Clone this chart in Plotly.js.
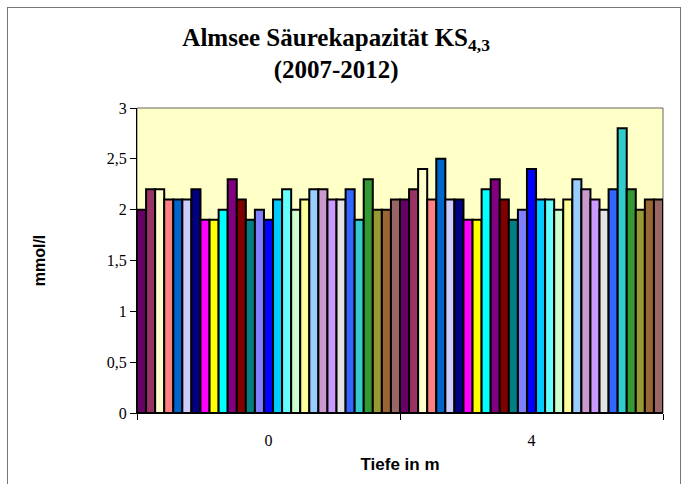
<!DOCTYPE html>
<html>
<head>
<meta charset="utf-8">
<script src="https://cdn.plot.ly/plotly-3.0.1.min.js"></script>
<style>
  html, body { margin: 0; padding: 0; background: #fff; }
  #wrap { position: relative; width: 686px; height: 484px; }
  #chart { width: 686px; height: 484px; }
  #frame { position: absolute; left: 7px; top: 7px; width: 672px; height: 480px; border: 1px solid #777; pointer-events: none; }
</style>
</head>
<body>
<div id="wrap">
  <div id="chart"></div>
  <div id="frame"></div>
</div>
<script>
// Categories (depth in m)
const depths = ["0", "4"];

// One value per series at depth 0 m and at depth 4 m (mmol/l)
const valuesDepth0 = [2.0, 2.2, 2.2, 2.1, 2.1, 2.1, 2.2, 1.9, 1.9, 2.0, 2.3, 2.1, 1.9, 2.0, 1.9,
                      2.1, 2.2, 2.0, 2.1, 2.2, 2.2, 2.1, 2.1, 2.2, 1.9, 2.3, 2.0, 2.0, 2.1];
const valuesDepth4 = [2.1, 2.2, 2.4, 2.1, 2.5, 2.1, 2.1, 1.9, 1.9, 2.2, 2.3, 2.1, 1.9, 2.0, 2.4,
                      2.1, 2.1, 2.0, 2.1, 2.3, 2.2, 2.1, 2.0, 2.2, 2.8, 2.2, 2.0, 2.1, 2.1];

// Series fill colours
const seriesColors = ["#660066", "#993366", "#FFFFCC", "#FF8080", "#0066CC", "#CCCCFF", "#000080",
                      "#FF00FF", "#FFFF00", "#00FFFF", "#800080", "#800000", "#008080", "#8080FF",
                      "#0000FF", "#00CCFF", "#66FFFF", "#CCFFCC", "#FFFF99", "#99CCFF", "#CC99CC",
                      "#CC99FF", "#E3E3E3", "#3366FF", "#33CCCC", "#339933", "#999933", "#996633",
                      "#996666"];

const seriesNames = seriesColors.map((c, i) => "Serie " + (i + 1));

const traces = seriesNames.map((name, i) => ({
  type: "bar",
  name: name,
  x: depths,
  y: [valuesDepth0[i], valuesDepth4[i]],
  marker: { color: seriesColors[i], line: { color: "#000", width: 2 } },
  hoverinfo: "x+y+name"
}));

const layout = {
  width: 686,
  height: 484,
  margin: { l: 137, r: 23, t: 108, b: 71 },
  paper_bgcolor: "rgba(0,0,0,0)",
  plot_bgcolor: "#FFFFC8",
  separators: ",.",
  showlegend: false,
  barmode: "group",
  bargap: 0,
  bargroupgap: 0,
  title: {
    text: "<b>Almsee Säurekapazität KS<sub>4,3</sub><br>(2007-2012)</b>",
    font: { family: "Liberation Serif, Times New Roman, serif", size: 25, color: "#000" },
    x: 0.49, xanchor: "center",
    y: 0.905, yanchor: "top"
  },
  xaxis: {
    type: "category",
    tickson: "boundaries",
    ticks: "outside",
    ticklen: 6,
    tickcolor: "#000",
    ticklabelstandoff: 13,
    showline: true,
    linecolor: "#000",
    linewidth: 1,
    showgrid: false,
    tickfont: { family: "Liberation Serif, Times New Roman, serif", size: 16, color: "#000" },
    title: {
      text: "<b>Tiefe in m</b>",
      font: { family: "Liberation Sans, Arial, sans-serif", size: 17, color: "#000" },
      standoff: 9
    }
  },
  yaxis: {
    range: [0, 3],
    dtick: 0.5,
    ticks: "outside",
    ticklen: 6,
    tickcolor: "#000",
    showline: true,
    linecolor: "#000",
    linewidth: 1,
    showgrid: false,
    zeroline: false,
    tickfont: { family: "Liberation Serif, Times New Roman, serif", size: 16, color: "#000" },
    title: {
      text: "<b>mmol/l</b>",
      font: { family: "Liberation Sans, Arial, sans-serif", size: 16, color: "#000" },
      standoff: 57
    }
  },
  shapes: [{
    type: "rect", xref: "paper", yref: "paper", x0: 0, x1: 1, y0: 0, y1: 1,
    line: { color: "#666", width: 1 }, fillcolor: "rgba(0,0,0,0)", layer: "below"
  }]
};

Plotly.newPlot("chart", traces, layout, { displayModeBar: false, staticPlot: true });
</script>
</body>
</html>
